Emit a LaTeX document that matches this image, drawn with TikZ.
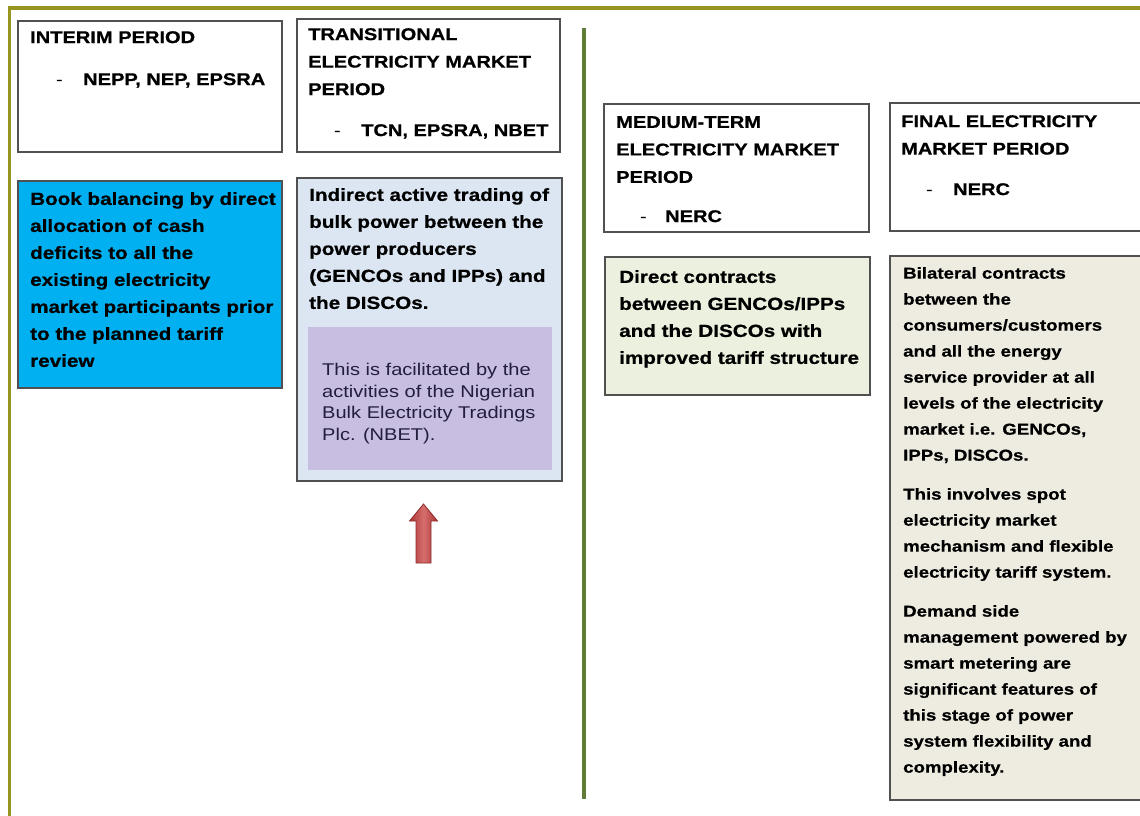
\documentclass[tikz,border=0pt]{standalone}
\usepackage{fontspec}
\setmainfont{Liberation Sans}[FakeStretch=1.18,BoldFeatures={FakeBold=0.7}]
\definecolor{olivef}{RGB}{150,150,30}
\definecolor{vgreen}{RGB}{95,125,55}
\definecolor{bluef}{RGB}{0,176,240}
\definecolor{lblue}{RGB}{220,230,242}
\definecolor{lilac}{RGB}{200,190,226}
\definecolor{lgreen}{RGB}{235,241,222}
\definecolor{beige}{RGB}{238,236,225}
\definecolor{boxline}{RGB}{80,80,80}
\definecolor{purpletext}{RGB}{35,30,60}
\definecolor{arrowdark}{RGB}{170,55,52}
\definecolor{arrowlight}{RGB}{215,110,110}
\definecolor{arrowline}{RGB}{140,45,45}
\begin{document}
\begin{tikzpicture}[x=1pt,y=-1pt,
  box/.style={draw=boxline,line width=1.3pt,anchor=north west,inner sep=0pt,outer sep=0pt},
  head/.style={anchor=north west,inner sep=0pt,align=left,font=\fontsize{17}{27.5}\selectfont\bfseries},
  body/.style={anchor=north west,inner sep=0pt,align=left,font=\fontsize{17.5}{27}\selectfont\bfseries},
  small/.style={anchor=north west,inner sep=0pt,align=left,font=\fontsize{15.8}{26}\selectfont\bfseries},
  note/.style={anchor=north west,inner sep=0pt,align=left,text=purpletext,font=\fontsize{17}{21.7}\selectfont}]
\useasboundingbox (0,0) rectangle (1140,816);
\clip (0,0) rectangle (1140,816);
\fill[white] (0,0) rectangle (1140,816);
% outer frame
\draw[olivef,line width=3.2pt] (9.5,830) -- (9.5,8) -- (1150,8);
% divider
\draw[vgreen,line width=4pt] (584,28) -- (584,799);
% header boxes
\node[box,minimum width=264pt,minimum height=131pt] (b1) at (18,21) {};
\node[box,minimum width=263pt,minimum height=133pt] (b2) at (297,19) {};
\node[box,minimum width=265pt,minimum height=128pt] (b3) at (604,104) {};
\node[box,minimum width=262pt,minimum height=128pt] (b4) at (890,103) {};
% content boxes
\node[box,fill=bluef,minimum width=264pt,minimum height=207pt] (b5) at (18,181) {};
\node[box,fill=lblue,minimum width=265pt,minimum height=303pt] (b6) at (297,178) {};
\node[anchor=north west,inner sep=0pt,fill=lilac,minimum width=244pt,minimum height=143pt] (b6n) at (308,327) {};
\node[box,fill=lgreen,minimum width=265pt,minimum height=138pt] (b7) at (605,257) {};
\node[box,fill=beige,minimum width=262pt,minimum height=544pt] (b8) at (890,256) {};
% header texts
\node[head] (h1) at (30,31) {INTERIM PERIOD};
\node[head] (h1a) at (56,73) {\makebox[27pt][l]{\mdseries -}NEPP, NEP, EPSRA};
\node[head] (h2) at (308,28) {TRANSITIONAL\\ELECTRICITY MARKET\\PERIOD};
\node[head] (h2a) at (334,124) {\makebox[27pt][l]{\mdseries -}TCN, EPSRA, NBET};
\node[head] (h3) at (616,116) {MEDIUM-TERM\\ELECTRICITY MARKET\\PERIOD};
\node[head] (h3a) at (640,210) {\makebox[25pt][l]{\mdseries -}NERC};
\node[head] (h4) at (901,115) {FINAL ELECTRICITY\\MARKET PERIOD};
\node[head] (h4a) at (926,183) {\makebox[27pt][l]{\mdseries -}NERC};
% body texts
\node[body] (t5) at (30,192) {Book balancing by direct\\allocation of cash\\deficits to all the\\existing electricity\\market participants prior\\to the planned tariff\\review};
\node[body] (t6) at (309,188) {Indirect active trading of\\bulk power between the\\power producers\\(GENCOs and IPPs) and\\the DISCOs.};
\node[note] (t6n) at (322,363) {This is facilitated by the\\activities of the Nigerian\\Bulk Electricity Tradings\\Plc. (NBET).};
\node[body] (t7) at (619,270) {Direct contracts\\between GENCOs/IPPs\\and the DISCOs with\\improved tariff structure};
\node[small] (t8) at (903,267) {Bilateral contracts\\between the\\consumers/customers\\and all the energy\\service provider at all\\levels of the electricity\\market i.e. GENCOs,\\IPPs, DISCOs.\\[13pt]This involves spot\\electricity market\\mechanism and flexible\\electricity tariff system.\\[13pt]Demand side\\management powered by\\smart metering are\\significant features of\\this stage of power\\system flexibility and\\complexity.};
% block arrow
\shadedraw[draw=arrowline,line width=0.8pt,left color=arrowdark,right color=arrowdark,middle color=arrowlight]
  (423.5,504) -- (437.5,521) -- (431,521) -- (431,563) -- (416,563) -- (416,521) -- (409.5,521) -- cycle;
\end{tikzpicture}
\end{document}
